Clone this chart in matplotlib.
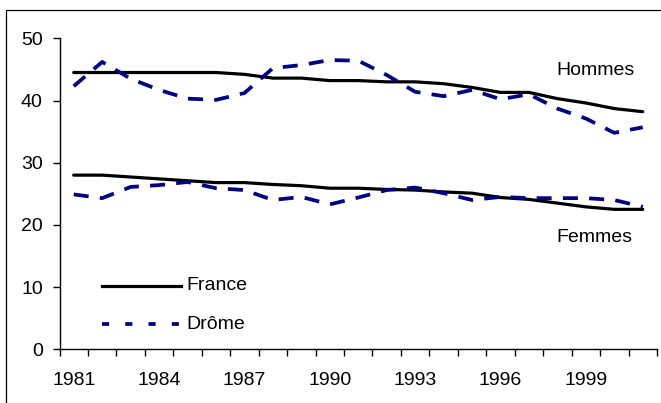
import matplotlib
matplotlib.use("Agg")
import matplotlib.pyplot as plt
from matplotlib.patches import Rectangle

plt.rcParams['font.family'] = ['Liberation Sans', 'DejaVu Sans']

# données
annees = list(range(1981, 2002))
france_hommes = [44.5, 44.5, 44.5, 44.5, 44.5, 44.5, 44.2, 43.6, 43.6, 43.2, 43.2,
                 43.0, 43.0, 42.7, 42.1, 41.3, 41.3, 40.3, 39.6, 38.7, 38.2]
drome_hommes = [42.3, 46.2, 43.5, 41.7, 40.3, 40.1, 41.2, 45.2, 45.7, 46.5, 46.4,
                44.1, 41.4, 40.7, 41.7, 40.2, 41.0, 38.7, 37.1, 34.8, 35.7]
france_femmes = [28.0, 28.0, 27.7, 27.4, 27.1, 26.8, 26.8, 26.5, 26.3, 25.9, 25.9,
                 25.7, 25.6, 25.3, 25.1, 24.4, 24.1, 23.5, 22.9, 22.5, 22.5]
drome_femmes = [24.9, 24.3, 26.1, 26.4, 26.9, 25.9, 25.6, 24.0, 24.5, 23.3, 24.4,
                25.6, 26.0, 25.1, 24.0, 24.5, 24.3, 24.3, 24.3, 24.0, 22.9]
etiquettes = [str(a) for a in annees[::3]]

W, H = 661, 403
fs = 14
fig = plt.figure(figsize=(W / 100, H / 100), dpi=100)

# cadre extérieur (gauche et haut visibles)
fig.patches.append(Rectangle((6 / W, -0.5), 2.0, 1.5 - 10 / H, transform=fig.transFigure,
                             fill=False, edgecolor='black', linewidth=0.9))

ax = fig.add_axes([59.5 / W, 1 - 349.3 / H, (657 - 59.5) / W, (349.3 - 38.3) / H])

x = list(range(len(annees)))
dash = (0, (4, 3))
ax.plot(x, france_hommes, color='black', lw=2.3, solid_capstyle='round')
ax.plot(x, france_femmes, color='black', lw=2.3, solid_capstyle='round')
ax.plot(x, drome_hommes, color='#000080', lw=2.7, linestyle=dash)
ax.plot(x, drome_femmes, color='#000080', lw=2.7, linestyle=dash)

ax.set_xlim(-0.5, len(annees) - 0.5)
ax.set_ylim(0, 50)
ax.set_yticks([0, 10, 20, 30, 40, 50])

# graduations entre les catégories, étiquettes tous les 3 ans
ax.set_xticks([i - 0.5 for i in range(len(annees) + 1)])
ax.set_xticklabels([])
ax.set_xticks(x[::3], minor=True)
ax.set_xticklabels(etiquettes, minor=True)
ax.tick_params(axis='x', which='major', length=5, width=1, direction='out')
ax.tick_params(axis='x', which='minor', length=0, pad=16, labelsize=fs)
ax.tick_params(axis='y', length=5, width=1, direction='out', pad=7, labelsize=fs)

for s in ['top', 'right']:
    ax.spines[s].set_visible(False)
for s in ['left', 'bottom']:
    ax.spines[s].set_linewidth(1)

ax.text(16.95, 44.9, 'Hommes', fontsize=fs, va='center', ha='left')
ax.text(16.95, 17.9, 'Femmes', fontsize=fs, va='center', ha='left')

# légende manuelle
ax.plot([1.0, 3.77], [10.2, 10.2], color='black', lw=2.3, clip_on=False)
ax.text(3.95, 10.2, 'France', fontsize=fs, va='center', ha='left')
ax.plot([1.0, 3.77], [4.05, 4.05], color='#000080', lw=2.7, linestyle=(0, (1.9, 4.3)),
        clip_on=False)
ax.text(3.95, 4.05, 'Drôme', fontsize=fs, va='center', ha='left')

fig.savefig('out.png', dpi=100)
